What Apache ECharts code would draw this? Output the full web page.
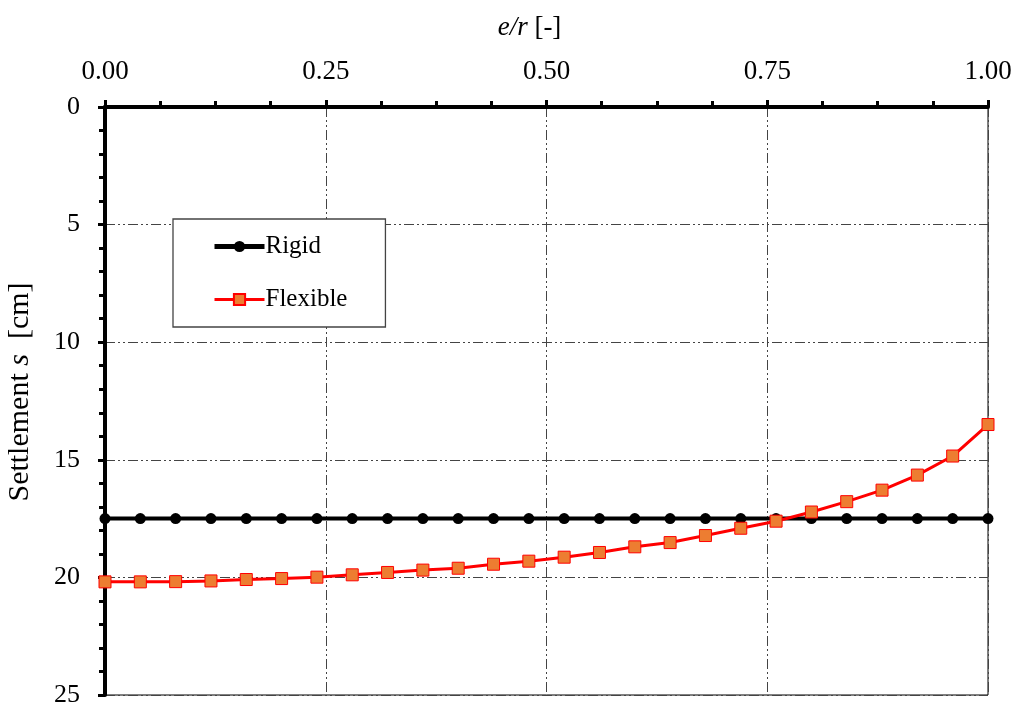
<!DOCTYPE html>
<html>
<head>
<meta charset="utf-8">
<script src="https://cdn.jsdelivr.net/npm/echarts@6/dist/echarts.min.js"></script>
<style>html,body{margin:0;padding:0;background:#fff}#c{width:1019px;height:706px}</style>
</head>
<body>
<div id="c"></div>
<script>
const xValues = [0,0.04,0.08,0.12,0.16,0.20,0.24,0.28,0.32,0.36,0.40,0.44,0.48,0.52,0.56,0.60,0.64,0.68,0.72,0.76,0.80,0.84,0.88,0.92,0.96,1.00];
const rigid = [17.5,17.5,17.5,17.5,17.5,17.5,17.5,17.5,17.5,17.5,17.5,17.5,17.5,17.5,17.5,17.5,17.5,17.5,17.5,17.5,17.5,17.5,17.5,17.5,17.5,17.5];
const flexible = [20.19,20.19,20.18,20.15,20.09,20.05,19.99,19.89,19.79,19.69,19.61,19.44,19.31,19.14,18.94,18.70,18.52,18.22,17.91,17.61,17.22,16.78,16.29,15.65,14.84,13.50];
const seriesNames = ['Rigid','Flexible'];

const font = 'Liberation Serif';
const chart = echarts.init(document.getElementById('c'));
const gridStyle = {show:true, lineStyle:{color:'#444', width:1, type:[10,3,2,3,2,3]}};
chart.setOption({
  animation:false,
  backgroundColor:'#fff',
  grid:{left:105, right:31, top:107, bottom:11, show:true, borderColor:'#000', borderWidth:1, outerBoundsMode:'none', containLabel:false},
  legend:{
    orient:'vertical', left:173, top:219, padding:[15,38,15,39], itemGap:28,
    backgroundColor:'#fff', borderColor:'#444', borderWidth:1.3,
    itemWidth:50, itemHeight:14,
    textStyle:{fontFamily:font, fontSize:25, color:'#000', padding:[0,0,0,-4]},
    data:[
      {name:seriesNames[0], lineStyle:{width:5, color:'#000'}},
      {name:seriesNames[1], lineStyle:{width:3, color:'#FF0000'}}
    ]
  },
  xAxis:{
    type:'value', position:'top', min:0, max:1, interval:0.25,
    name:'{i|e/r} [-]', nameLocation:'middle', nameGap:66,
    nameTextStyle:{fontFamily:font, fontSize:27, color:'#000', padding:[0,34,0,0], rich:{i:{fontFamily:font, fontSize:27, fontStyle:'italic'}}},
    axisLine:{show:true, lineStyle:{color:'#000', width:4}},
    axisTick:{show:true, length:7, lineStyle:{color:'#000', width:3}},
    minorTick:{show:true, splitNumber:4, length:6, lineStyle:{color:'#000', width:3}},
    axisLabel:{fontFamily:font, fontSize:27, color:'#000', margin:22, formatter:v=>v.toFixed(2)},
    splitLine:gridStyle
  },
  yAxis:{
    type:'value', inverse:true, min:0, max:25, interval:5,
    name:'Settlement {i|s}  [cm]', nameLocation:'middle', nameGap:70, nameRotate:90,
    nameTextStyle:{fontFamily:font, fontSize:30, color:'#000', padding:[0,0,0,18], rich:{i:{fontFamily:font, fontSize:30, fontStyle:'italic'}}},
    axisLine:{show:true, lineStyle:{color:'#000', width:4}},
    axisTick:{show:true, length:7, lineStyle:{color:'#000', width:3}},
    minorTick:{show:true, splitNumber:5, length:6, lineStyle:{color:'#000', width:3}},
    axisLabel:{fontFamily:font, fontSize:26, color:'#000', margin:25},
    splitLine:gridStyle
  },
  series:[
    {name:seriesNames[0], type:'line', data:xValues.map((x,i)=>[x,rigid[i]]),
     symbol:'circle', symbolSize:11, lineStyle:{color:'#000', width:4},
     itemStyle:{color:'#000'}, z:3},
    {name:seriesNames[1], type:'line', data:xValues.map((x,i)=>[x,flexible[i]]),
     symbol:'rect', symbolSize:12, lineStyle:{color:'#FF0000', width:3},
     itemStyle:{color:'#ED7D31', borderColor:'#FF0000', borderWidth:1}, z:4}
  ]
});
</script>
</body>
</html>
